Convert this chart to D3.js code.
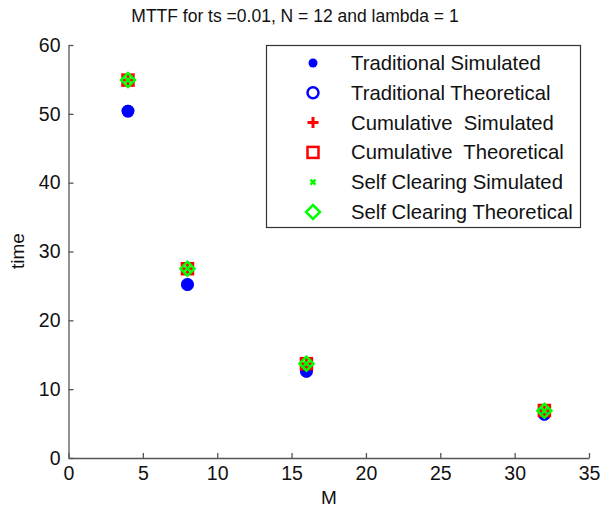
<!DOCTYPE html>
<html><head><meta charset="utf-8">
<script src="https://cdn.jsdelivr.net/npm/d3@7"></script>
<style>body{margin:0;background:#fff}svg{display:block}text{font-family:"Liberation Sans",Arial,sans-serif}</style>
</head><body><svg id="c" width="601" height="514"></svg>
<script>
const M = [4, 8, 16, 32];
const tradSim = [50.4, 25.2, 12.6, 6.35];
const tradTheo = [50.4, 25.2, 12.6, 6.35];
const cumSim = [54.9, 27.5, 13.7, 6.9];
const cumTheo = [54.9, 27.5, 13.7, 6.9];
const selfSim = [54.9, 27.5, 13.7, 6.85];
const selfTheo = [54.9, 27.5, 13.7, 6.85];
const xTicks = [0, 5, 10, 15, 20, 25, 30, 35];
const yTicks = [0, 10, 20, 30, 40, 50, 60];
const legendLabels = ["Traditional Simulated", "Traditional Theoretical", "Cumulative  Simulated", "Cumulative  Theoretical", "Self Clearing Simulated", "Self Clearing Theoretical"];

const svg = d3.select("#c");
const L = 68.5, R = 589, T = 45, B = 458;
const x = d3.scaleLinear().domain([0, 35]).range([L, R]);
const y = d3.scaleLinear().domain([0, 60]).range([B, T]);
const axisCol = "#555", txtCol = "#111";

const xa = svg.append("g").attr("transform", `translate(0,${B})`)
  .call(d3.axisBottom(x).tickValues(xTicks).tickSizeInner(-5).tickSizeOuter(0).tickPadding(8));
const ya = svg.append("g").attr("transform", `translate(${L},0)`)
  .call(d3.axisLeft(y).tickValues(yTicks).tickSizeInner(-5).tickSizeOuter(0).tickPadding(8));
[xa, ya].forEach(a => {
  a.select(".domain").attr("stroke", axisCol).attr("stroke-width", 1.3);
  a.selectAll(".tick line").attr("stroke", axisCol).attr("stroke-width", 1.3);
  a.selectAll("text").attr("font-size", 19.5).attr("fill", txtCol).attr("font-family", "Liberation Sans, Arial, sans-serif");
});

svg.append("text").attr("x", 295).attr("y", 22).attr("text-anchor", "middle")
  .attr("font-size", 17.5).attr("fill", txtCol).text("MTTF for ts =0.01, N = 12 and lambda = 1");
svg.append("text").attr("x", 329).attr("y", 504).attr("text-anchor", "middle")
  .attr("font-size", 19).attr("fill", txtCol).text("M");
svg.append("text").attr("transform", "translate(24,251) rotate(-90)").attr("text-anchor", "middle")
  .attr("font-size", 19).attr("fill", txtCol).text("time");

const blue = "#0000ff", red = "#ff0000", green = "#00ff00";
function marker(g, type, s) {
  switch (type) {
    case "dot": g.append("circle").attr("r", s).attr("fill", blue); break;
    case "circle": g.append("circle").attr("r", s).attr("fill", "none").attr("stroke", blue).attr("stroke-width", 2.5); break;
    case "plus": g.append("path").attr("d", `M${-s},0H${s}M0,${-s}V${s}`).attr("stroke", red).attr("stroke-width", 3); break;
    case "square": g.append("rect").attr("x", -s).attr("y", -s).attr("width", 2*s).attr("height", 2*s).attr("fill", "none").attr("stroke", red).attr("stroke-width", 2.5); break;
    case "x": g.append("path").attr("d", `M${-s},${-s}L${s},${s}M${-s},${s}L${s},${-s}`).attr("stroke", green).attr("stroke-width", 2.5); break;
    case "diamond": g.append("path").attr("d", `M0,${-s}L${s},0L0,${s}L${-s},0Z`).attr("fill", "none").attr("stroke", green).attr("stroke-width", 2.5); break;
  }
}
const series = [
  {v: tradSim, t: "dot", s: 6.3, ls: 4.5},
  {v: tradTheo, t: "circle", s: 5.2, ls: 5.5},
  {v: cumSim, t: "plus", s: 5, ls: 5.5},
  {v: cumTheo, t: "square", s: 5.5, ls: 5.5},
  {v: selfSim, t: "x", s: 2.5, ls: 2.5},
  {v: selfTheo, t: "diamond", s: 7, ls: 7}
];
series.forEach(se => {
  se.v.forEach((val, i) => {
    const g = svg.append("g").attr("transform", `translate(${x(M[i])},${y(val)})`);
    marker(g, se.t, se.s);
  });
});

// legend
const lg = svg.append("g");
lg.append("rect").attr("x", 266.5).attr("y", 45.5).attr("width", 314).attr("height", 182)
  .attr("fill", "#fff").attr("stroke", "#333").attr("stroke-width", 1.2);
legendLabels.forEach((lab, i) => {
  const cy = 63 + i * 29.8;
  const g = lg.append("g").attr("transform", `translate(313,${cy})`);
  marker(g, series[i].t, series[i].ls);
  lg.append("text").attr("x", 351).attr("y", cy + 7).attr("font-size", 20.3).attr("fill", txtCol)
    .attr("xml:space", "preserve").style("white-space", "pre").text(lab);
});
</script></body></html>
